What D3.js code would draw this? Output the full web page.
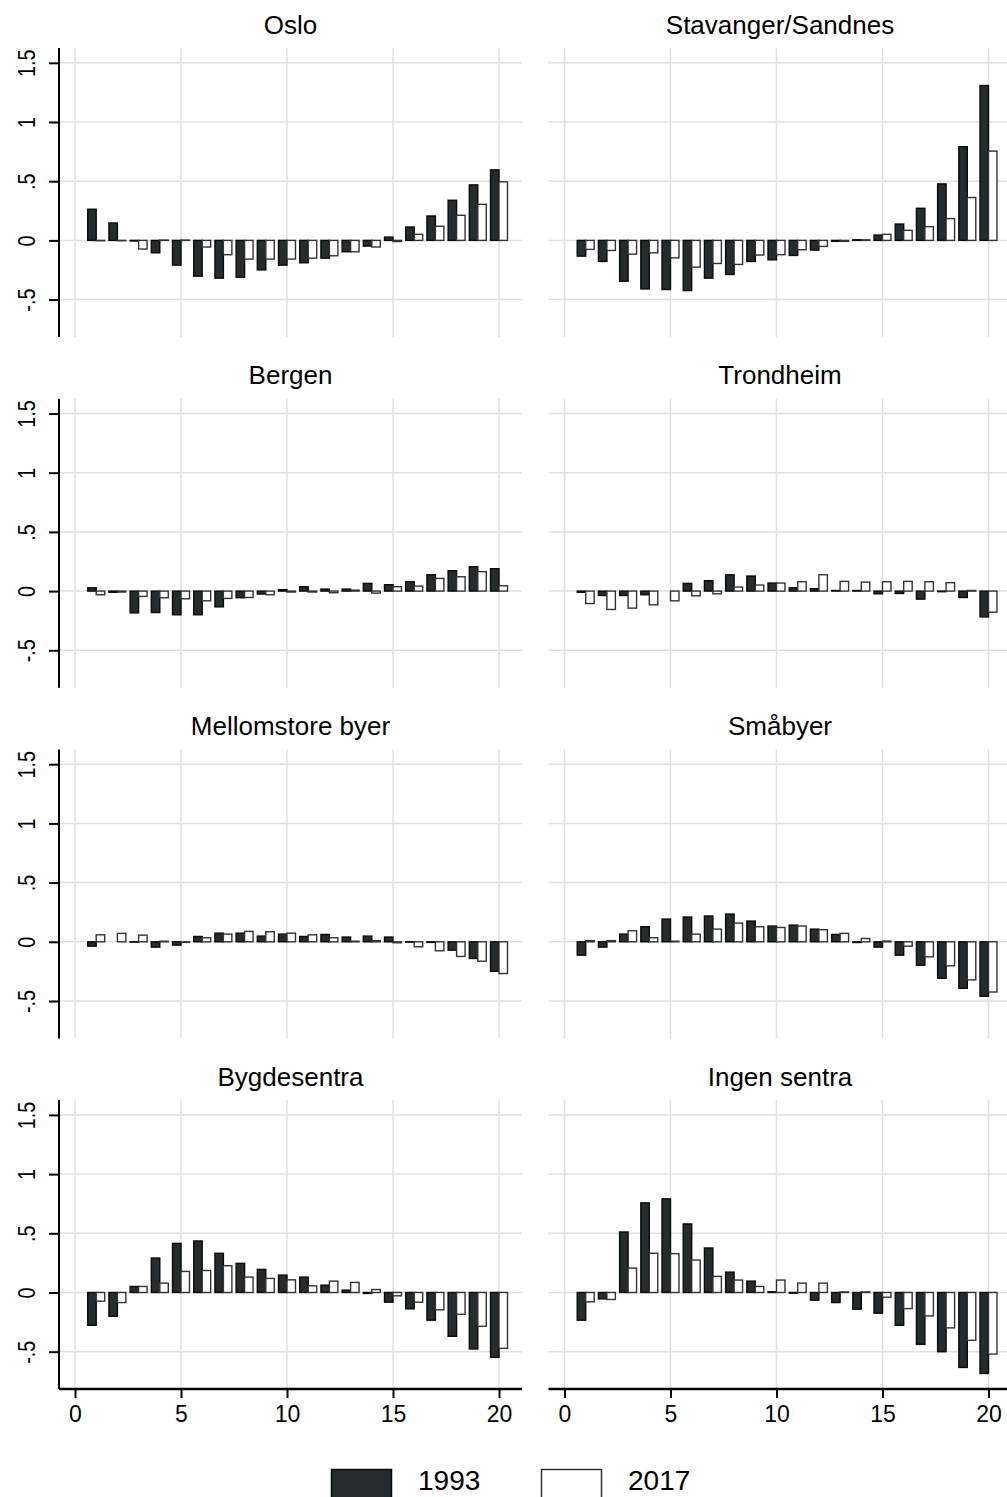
<!DOCTYPE html>
<html lang="en">
<head>
    <meta charset="UTF-8">
    <title>1993 vs 2017</title>
    <script src="https://cdn.jsdelivr.net/npm/d3@7"></script>
    <style>
        body { margin: 0; background: #fff; }
        text { font-family: 'Liberation Sans', Arial, sans-serif; fill: #000; }
    </style>
</head>
<body>
<script>
    const bins = [1, 2, 3, 4, 5, 6, 7, 8, 9, 10, 11, 12, 13, 14, 15, 16, 17, 18, 19, 20]
    const regions = ['Oslo', 'Stavanger/Sandnes', 'Bergen', 'Trondheim', 'Mellomstore byer', 'Småbyer', 'Bygdesentra', 'Ingen sentra']
    const years = ['1993', '2017']
    const yTicks = [-0.5, 0, 0.5, 1, 1.5]
    const yTickLabels = ['-.5', '0', '.5', '1', '1.5']
    const xTicks = [0, 5, 10, 15, 20]

    const oslo1993 = [0.263, 0.147, -0.005, -0.105, -0.209, -0.302, -0.319, -0.311, -0.249, -0.209, -0.189, -0.150, -0.096, -0.048, 0.028, 0.113, 0.206, 0.339, 0.469, 0.596]
    const oslo2017 = [-0.003, -0.003, -0.073, 0.003, 0.003, -0.056, -0.121, -0.158, -0.158, -0.158, -0.150, -0.130, -0.096, -0.056, -0.010, 0.051, 0.119, 0.212, 0.305, 0.494]
    const stavanger1993 = [-0.133, -0.178, -0.345, -0.410, -0.415, -0.424, -0.319, -0.288, -0.178, -0.164, -0.127, -0.082, -0.008, 0.005, 0.045, 0.138, 0.271, 0.477, 0.791, 1.308]
    const stavanger2017 = [-0.076, -0.085, -0.116, -0.105, -0.147, -0.226, -0.195, -0.203, -0.124, -0.121, -0.079, -0.051, -0.008, 0.005, 0.051, 0.085, 0.116, 0.184, 0.362, 0.754]
    const bergen1993 = [0.028, -0.010, -0.184, -0.181, -0.200, -0.200, -0.133, -0.056, -0.025, 0.012, 0.037, 0.017, 0.017, 0.065, 0.054, 0.079, 0.138, 0.172, 0.206, 0.189]
    const bergen2017 = [-0.031, -0.008, -0.045, -0.056, -0.065, -0.082, -0.062, -0.054, -0.031, -0.008, -0.008, -0.014, 0.008, -0.017, 0.037, 0.042, 0.107, 0.121, 0.164, 0.045]
    const trondheim1993 = [-0.010, -0.037, -0.037, -0.031, 0.000, 0.065, 0.088, 0.138, 0.127, 0.068, 0.028, 0.020, 0.005, 0.005, -0.023, -0.020, -0.068, -0.005, -0.054, -0.218]
    const trondheim2017 = [-0.105, -0.155, -0.144, -0.116, -0.082, -0.040, -0.023, 0.034, 0.051, 0.068, 0.079, 0.138, 0.082, 0.076, 0.079, 0.082, 0.079, 0.071, 0.005, -0.178]
    const mellomstore1993 = [-0.037, 0.000, -0.003, -0.045, -0.028, 0.045, 0.073, 0.073, 0.048, 0.065, 0.045, 0.062, 0.040, 0.048, 0.040, -0.003, -0.005, -0.071, -0.141, -0.249]
    const mellomstore2017 = [0.059, 0.071, 0.056, 0.005, -0.005, 0.034, 0.065, 0.088, 0.085, 0.073, 0.059, 0.034, 0.005, 0.010, -0.008, -0.042, -0.076, -0.124, -0.164, -0.268]
    const smabyer1993 = [-0.113, -0.045, 0.065, 0.127, 0.192, 0.209, 0.218, 0.234, 0.175, 0.133, 0.141, 0.107, 0.062, -0.006, -0.045, -0.113, -0.198, -0.308, -0.393, -0.460]
    const smabyer2017 = [0.010, 0.010, 0.093, 0.034, 0.005, 0.065, 0.107, 0.158, 0.127, 0.121, 0.133, 0.102, 0.071, 0.028, 0.006, -0.037, -0.127, -0.203, -0.322, -0.424]
    const bygdesentra1993 = [-0.277, -0.201, 0.051, 0.291, 0.415, 0.435, 0.331, 0.246, 0.195, 0.147, 0.130, 0.062, 0.020, -0.008, -0.082, -0.138, -0.234, -0.370, -0.477, -0.548]
    const bygdesentra2017 = [-0.073, -0.085, 0.051, 0.079, 0.178, 0.186, 0.226, 0.130, 0.119, 0.107, 0.056, 0.096, 0.085, 0.025, -0.028, -0.082, -0.147, -0.184, -0.285, -0.472]
    const ingen1993 = [-0.234, -0.054, 0.511, 0.757, 0.791, 0.579, 0.376, 0.172, 0.096, 0.006, -0.006, -0.065, -0.085, -0.141, -0.175, -0.277, -0.438, -0.500, -0.633, -0.684]
    const ingen2017 = [-0.079, -0.059, 0.206, 0.331, 0.328, 0.274, 0.136, 0.105, 0.051, 0.105, 0.079, 0.079, 0.005, 0.005, -0.040, -0.136, -0.198, -0.299, -0.404, -0.520]

    const series = [
        [oslo1993, oslo2017], [stavanger1993, stavanger2017],
        [bergen1993, bergen2017], [trondheim1993, trondheim2017],
        [mellomstore1993, mellomstore2017], [smabyer1993, smabyer2017],
        [bygdesentra1993, bygdesentra2017], [ingen1993, ingen2017]
    ]

    const [width, height] = [1007, 1497]
    const panelW = 463, panelH = 289
    const colX = [59, 548.5], rowY = [48, 398.7, 749.4, 1100.1]
    const barW = 0.4
    const gridColor = '#e0e0e0'
    const fills = ['#262b2d', '#ffffff']
    const strokes = ['#0b0b0b', '#333333']
    const font = "'Liberation Sans', Arial, sans-serif"

    const svg = d3.select('body').append('svg').attr('width', width).attr('height', height)

    const x = d3.scaleLinear().domain([0, 20]).range([16, 440])
    const y = d3.scaleLinear().domain([-0.816, 1.625]).range([panelH, 0])

    regions.forEach((name, k) => {
        const col = k % 2, row = Math.floor(k / 2)
        const g = svg.append('g').attr('transform', `translate(${colX[col]}, ${rowY[row]})`)

        // grid
        g.selectAll('line.hgrid').data(yTicks).join('line').attr('class', 'hgrid')
            .attr('x1', 0).attr('x2', panelW)
            .attr('y1', d => y(d)).attr('y2', d => y(d))
            .attr('stroke', gridColor).attr('stroke-width', 1.5)
        g.selectAll('line.vgrid').data(xTicks).join('line').attr('class', 'vgrid')
            .attr('x1', d => x(d)).attr('x2', d => x(d))
            .attr('y1', 0).attr('y2', panelH)
            .attr('stroke', gridColor).attr('stroke-width', 1.5)

        // title
        g.append('text').attr('x', panelW / 2).attr('y', -14.5)
            .attr('text-anchor', 'middle').style('font-size', '26px').text(name)

        // bars: 1993 left of the bin, 2017 right of it
        series[k].forEach((vals, s) => {
            g.selectAll(`rect.s${s}`).data(vals).join('rect').attr('class', `s${s}`)
                .attr('x', (d, i) => x(bins[i] - barW + s * barW))
                .attr('width', x(barW) - x(0))
                .attr('y', d => Math.min(y(d), y(0)))
                .attr('height', d => Math.abs(y(d) - y(0)))
                .attr('fill', fills[s]).attr('stroke', strokes[s]).attr('stroke-width', 1.4)
        })

        // y axis on left column
        if (col === 0) {
            const yAxis = d3.axisLeft(y).tickValues(yTicks).tickSize(10)
                .tickFormat((d, i) => yTickLabels[i])
            const ya = g.append('g').call(yAxis)
            ya.select('.domain').attr('stroke-width', 2).attr('d', `M0,0V${panelH}`)
            ya.selectAll('.tick line').attr('stroke-width', 2)
            ya.selectAll('.tick text')
                .attr('x', 0).attr('dy', 0).attr('y', 0)
                .attr('text-anchor', 'middle')
                .attr('transform', 'translate(-24,0) rotate(-90) scale(0.9,1.12)')
                .style('font-size', '22px').style('font-family', font)
        }

        // x axis on bottom row
        if (row === 3) {
            const xAxis = d3.axisBottom(x).tickValues(xTicks).tickSize(9)
            const xa = g.append('g').attr('transform', `translate(0, ${panelH})`).call(xAxis)
            xa.select('.domain').attr('stroke-width', 2.5).attr('d', `M0,0H${panelW}`)
            xa.selectAll('.tick line').attr('stroke-width', 2)
            xa.selectAll('.tick text')
                .attr('dy', 0).attr('y', 32.6)
                .style('font-size', '23px').style('font-family', font)
        }
    })

    // legend
    const legend = svg.append('g').attr('transform', 'translate(331, 1469)')
    const legendX = [0, 210]
    years.forEach((yr, s) => {
        legend.append('rect').attr('x', legendX[s] + 0.5).attr('y', 0.5)
            .attr('width', 60).attr('height', 40)
            .attr('fill', fills[s]).attr('stroke', strokes[s]).attr('stroke-width', 1.5)
        legend.append('text').attr('x', legendX[s] + 87).attr('y', 21)
            .style('font-size', '28px').text(yr)
    })
</script>
</body>
</html>
